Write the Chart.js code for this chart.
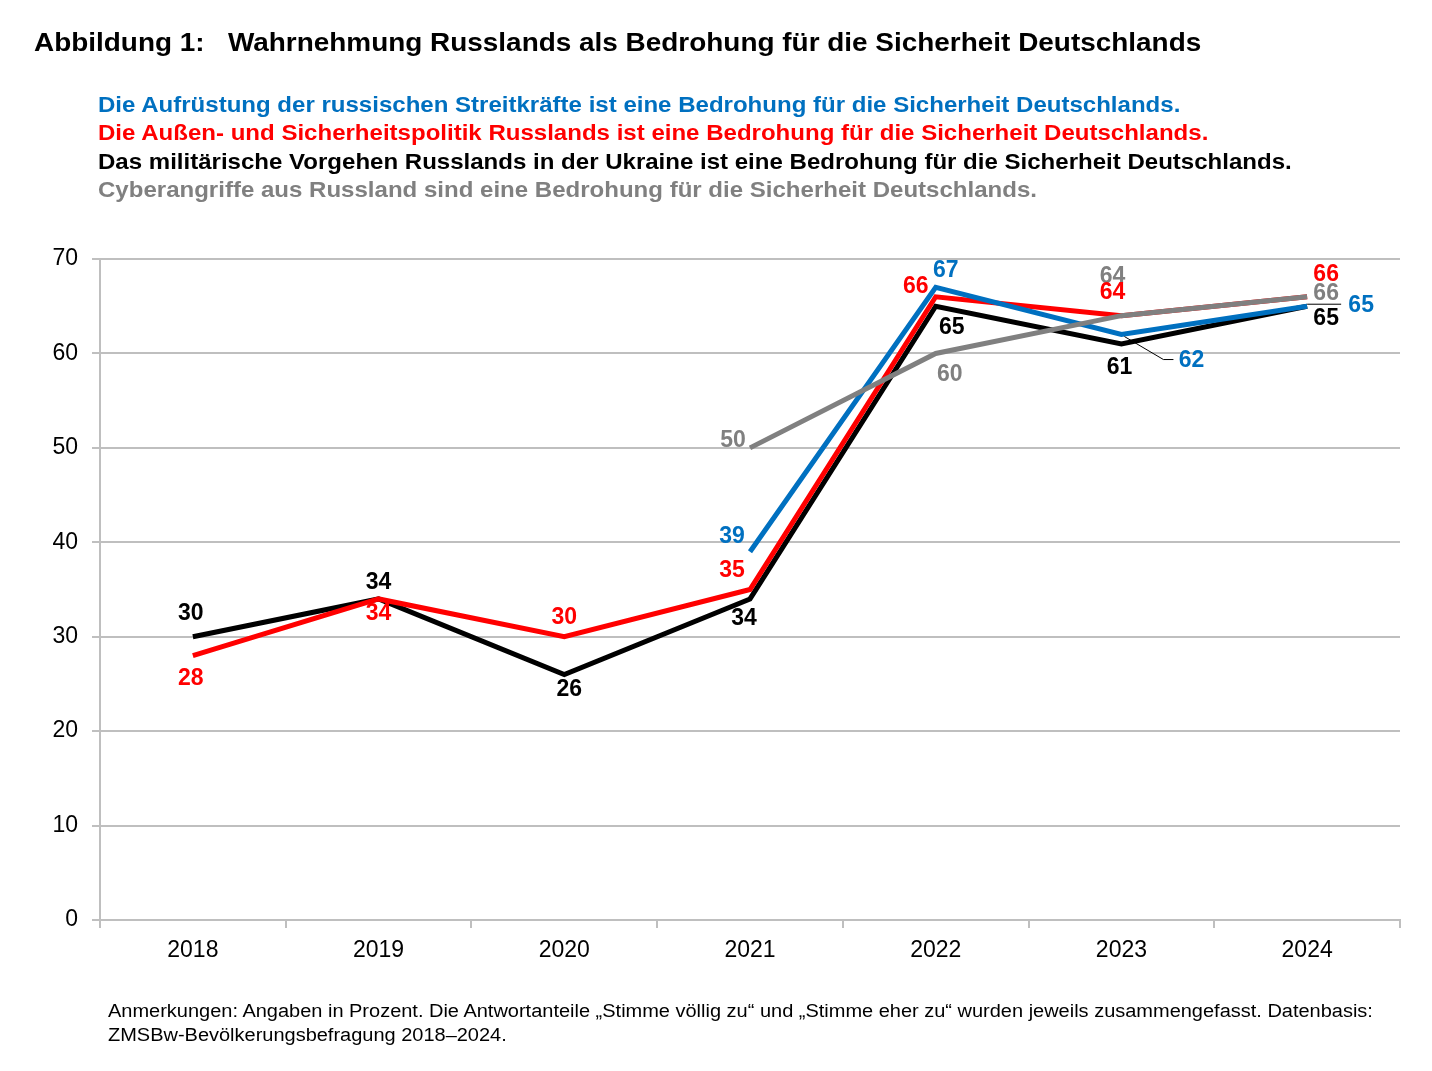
<!DOCTYPE html>
<html>
<head>
<meta charset="utf-8">
<script src="https://cdn.jsdelivr.net/npm/chart.js@4"></script>
<style>
  body { margin: 0; background: #fff; font-family: "Liberation Sans", Arial, sans-serif; }
  #wrap { position: relative; width: 1432px; height: 1071px; }
  #chart { position: absolute; left: 0; top: 0; }
  .title { position: absolute; left: 34px; top: 27px; font-size: 26px; font-weight: bold; line-height: 30px; white-space: pre; color: #000; transform: scaleX(1.074); transform-origin: left top; }
  .legend { position: absolute; left: 98px; top: 91px; font-size: 21.5px; font-weight: bold; line-height: 28.3px; white-space: nowrap; transform: scaleX(1.118); transform-origin: left top; }
  .note { position: absolute; left: 108px; top: 999px; font-size: 18px; line-height: 24px; color: #000; white-space: nowrap; transform: scaleX(1.11); transform-origin: left top; }
</style>
</head>
<body>
<div id="wrap">
  <canvas id="chart" width="1432" height="1071"></canvas>
  <div class="title">Abbildung 1:   Wahrnehmung Russlands als Bedrohung für die Sicherheit Deutschlands</div>
  <div class="legend">
    <div style="color:#0070c0">Die Aufrüstung der russischen Streitkräfte ist eine Bedrohung für die Sicherheit Deutschlands.</div>
    <div style="color:#ff0000">Die Außen- und Sicherheitspolitik Russlands ist eine Bedrohung für die Sicherheit Deutschlands.</div>
    <div style="color:#000000">Das militärische Vorgehen Russlands in der Ukraine ist eine Bedrohung für die Sicherheit Deutschlands.</div>
    <div style="color:#808080">Cyberangriffe aus Russland sind eine Bedrohung für die Sicherheit Deutschlands.</div>
  </div>
  <div class="note">Anmerkungen: Angaben in Prozent. Die Antwortanteile „Stimme völlig zu“ und „Stimme eher zu“ wurden jeweils zusammengefasst. Datenbasis:<br>ZMSBw-Bevölkerungsbefragung 2018–2024.</div>
</div>
<script>
const years = ['2018', '2019', '2020', '2021', '2022', '2023', '2024'];
const aufruestung = [null, null, null, 39, 67, 62, 65];
const aussenpolitik = [28, 34, 30, 35, 66, 64, 66];
const ukraine = [30, 34, 26, 34, 65, 61, 65];
const cyber = [null, null, null, 50, 60, 64, 66];

// label offsets from the point, in px
const blueOff = [null, null, null, [-18, -15], [10, -17], [70, 26], [54, -1]];
const redOff = [[-2, 23], [0, 15], [0, -19], [-18, -19], [-20, -10], [-9, -23], [19, -22]];
const blackOff = [[-2, -23], [0, -16], [5, 15], [-6, 20], [16, 21], [-2, 24], [19, 12]];
const greyOff = [null, null, null, [-17, -7], [14, 21], [-9, -39], [19, -3]];

const labelPlugin = {
  id: 'labels',
  afterDatasetsDraw(chart) {
    const c = chart.ctx;
    c.save();
    c.font = 'bold 23px "Liberation Sans", Arial, sans-serif';
    c.textAlign = 'center';
    c.textBaseline = 'middle';
    chart.data.datasets.forEach((ds, i) => {
      const meta = chart.getDatasetMeta(i);
      meta.data.forEach((pt, j) => {
        const v = ds.data[j];
        const off = ds.offs[j];
        if (v === null || !off) return;
        const lx = pt.x + off[0], ly = pt.y + off[1];
        if (ds.leader && ds.leader[j]) {
          c.strokeStyle = '#000';
          c.lineWidth = 1;
          c.beginPath();
          if (ds.leader[j] === 'bent') {
            c.moveTo(pt.x + 3, pt.y + 2);
            c.lineTo(lx - 28, ly - 1);
            c.lineTo(lx - 18, ly - 1);
          } else {
            c.moveTo(pt.x, pt.y - 2);
            c.lineTo(lx - 20, pt.y - 2);
          }
          c.stroke();
        }
        c.fillStyle = ds.borderColor;
        c.fillText(String(v), lx, ly);
      });
    });
    c.restore();
  }
};

const gridGrey = '#bfbfbf';
new Chart(document.getElementById('chart'), {
  type: 'line',
  data: {
    labels: years,
    datasets: [
      { data: cyber, borderColor: '#808080', order: 1, offs: greyOff },
      { data: aufruestung, borderColor: '#0070c0', order: 2, offs: blueOff, leader: [null, null, null, null, null, 'bent', 'flat'] },
      { data: aussenpolitik, borderColor: '#ff0000', order: 3, offs: redOff },
      { data: ukraine, borderColor: '#000000', order: 4, offs: blackOff }
    ].map(d => Object.assign({ borderWidth: 5, pointRadius: 0, tension: 0, fill: false, spanGaps: false }, d))
  },
  options: {
    responsive: false,
    animation: false,
    events: [],
    layout: { padding: { left: 0, top: 259, right: 32, bottom: 111 } },
    plugins: { legend: { display: false }, tooltip: { enabled: false } },
    scales: {
      x: {
        offset: true,
        afterFit(s) { s.height = 40; },
        grid: {
          offset: true,
          color: ctx => ctx.index === 7 ? gridGrey : 'rgba(0,0,0,0)',
          tickColor: gridGrey,
          tickLength: 8,
          lineWidth: 2
        },
        border: { color: gridGrey, width: 2 },
        ticks: { color: '#000', font: { size: 23, family: '"Liberation Sans", Arial, sans-serif' }, padding: 9 }
      },
      y: {
        min: 0,
        max: 70,
        afterFit(s) { s.width = 100; },
        grid: { color: gridGrey, tickColor: gridGrey, tickLength: 8, lineWidth: 2 },
        border: { color: gridGrey, width: 2 },
        ticks: { stepSize: 10, color: '#000', font: { size: 23, family: '"Liberation Sans", Arial, sans-serif' }, padding: 14 }
      }
    }
  },
  plugins: [labelPlugin]
});
</script>
</body>
</html>
